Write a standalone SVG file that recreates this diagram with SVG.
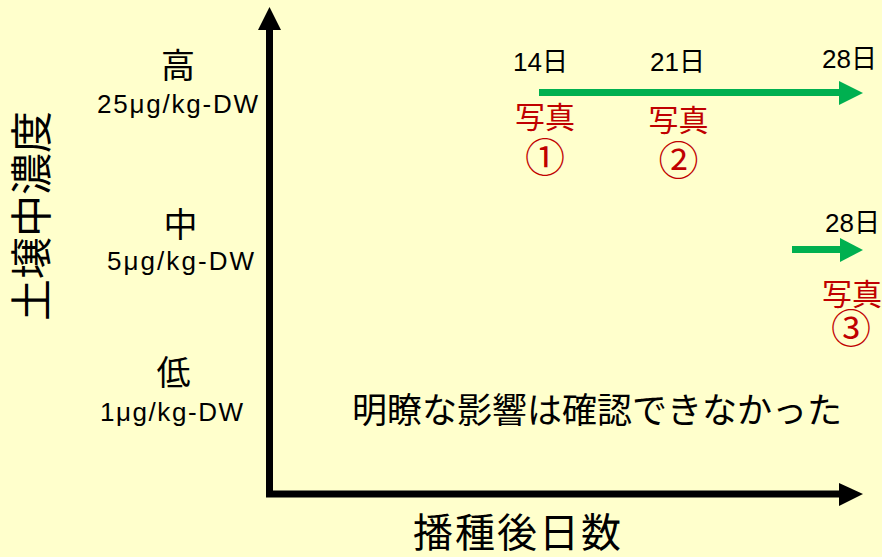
<svg xmlns="http://www.w3.org/2000/svg" width="882" height="557" viewBox="0 0 882 557">
<style>
.cjk{font-family:"Noto Sans CJK JP",sans-serif;fill:#000}
.lat{font-family:"Liberation Sans","Noto Sans CJK JP",sans-serif;fill:#000}
.red{font-family:"Noto Sans CJK JP",sans-serif;fill:#C00000}
.axis{stroke:#000;stroke-width:7;fill:none}
.grn{stroke:#00B050;stroke-width:7;fill:none}
</style>
<rect width="882" height="557" fill="#FFFFCC"/>
<g id="connectors">
<line class="axis" x1="269.5" y1="497" x2="269.5" y2="28"/>
<polygon points="258,30 269.5,7 281,30" fill="#000"/>
<line class="axis" x1="266" y1="494" x2="841" y2="494"/>
<polygon points="839,483 863,494 839,506" fill="#000"/>
<line class="grn" x1="539" y1="92.5" x2="841" y2="92.5"/>
<polygon points="839,81 863,93 839,105" fill="#00B050"/>
<line class="grn" x1="792" y1="249.5" x2="841" y2="249.5"/>
<polygon points="840,238 863,250 840,262" fill="#00B050"/>
</g>
<g id="ylabel"><text class="cjk" font-size="42" text-anchor="middle" transform="translate(47,216) rotate(-90)">土壌中濃度</text></g>
<g id="xlabel"><text class="cjk" font-size="40" x="413" y="547" textLength="208" lengthAdjust="spacing">播種後日数</text></g>
<g id="high">
<text class="cjk" font-size="34" x="178" y="78" text-anchor="middle">高</text>
<text class="lat" font-size="26" x="97" y="113" textLength="161" lengthAdjust="spacing">25μg/kg-DW</text>
</g>
<g id="mid">
<text class="cjk" font-size="34" x="180.5" y="237" text-anchor="middle">中</text>
<text class="lat" font-size="26" x="107" y="270" textLength="147" lengthAdjust="spacing">5μg/kg-DW</text>
</g>
<g id="low">
<text class="cjk" font-size="34" x="173.5" y="385" text-anchor="middle">低</text>
<text class="lat" font-size="26" x="100" y="421" textLength="143" lengthAdjust="spacing">1μg/kg-DW</text>
</g>
<g id="day14"><text class="lat" font-size="26" x="513" y="71">14日</text></g>
<g id="day21"><text class="lat" font-size="26" x="650" y="71">21日</text></g>
<g id="day28a"><text class="lat" font-size="26" x="822" y="68">28日</text></g>
<g id="day28b"><text class="lat" font-size="26" x="825" y="232">28日</text></g>
<g id="photo1">
<text class="red" font-size="30" x="545" y="128" text-anchor="middle">写真</text>
<text class="red" font-size="40" x="545" y="172" text-anchor="middle">①</text>
</g>
<g id="photo2">
<text class="red" font-size="30" x="678.5" y="131" text-anchor="middle">写真</text>
<text class="red" font-size="40" x="678.5" y="175" text-anchor="middle">②</text>
</g>
<g id="photo3">
<text class="red" font-size="30" x="852" y="305" text-anchor="middle">写真</text>
<text class="red" font-size="40" x="851" y="343" text-anchor="middle">③</text>
</g>
<g id="note"><text class="cjk" font-size="35" x="352" y="423" textLength="490" lengthAdjust="spacing">明瞭な影響は確認できなかった</text></g>
</svg>
